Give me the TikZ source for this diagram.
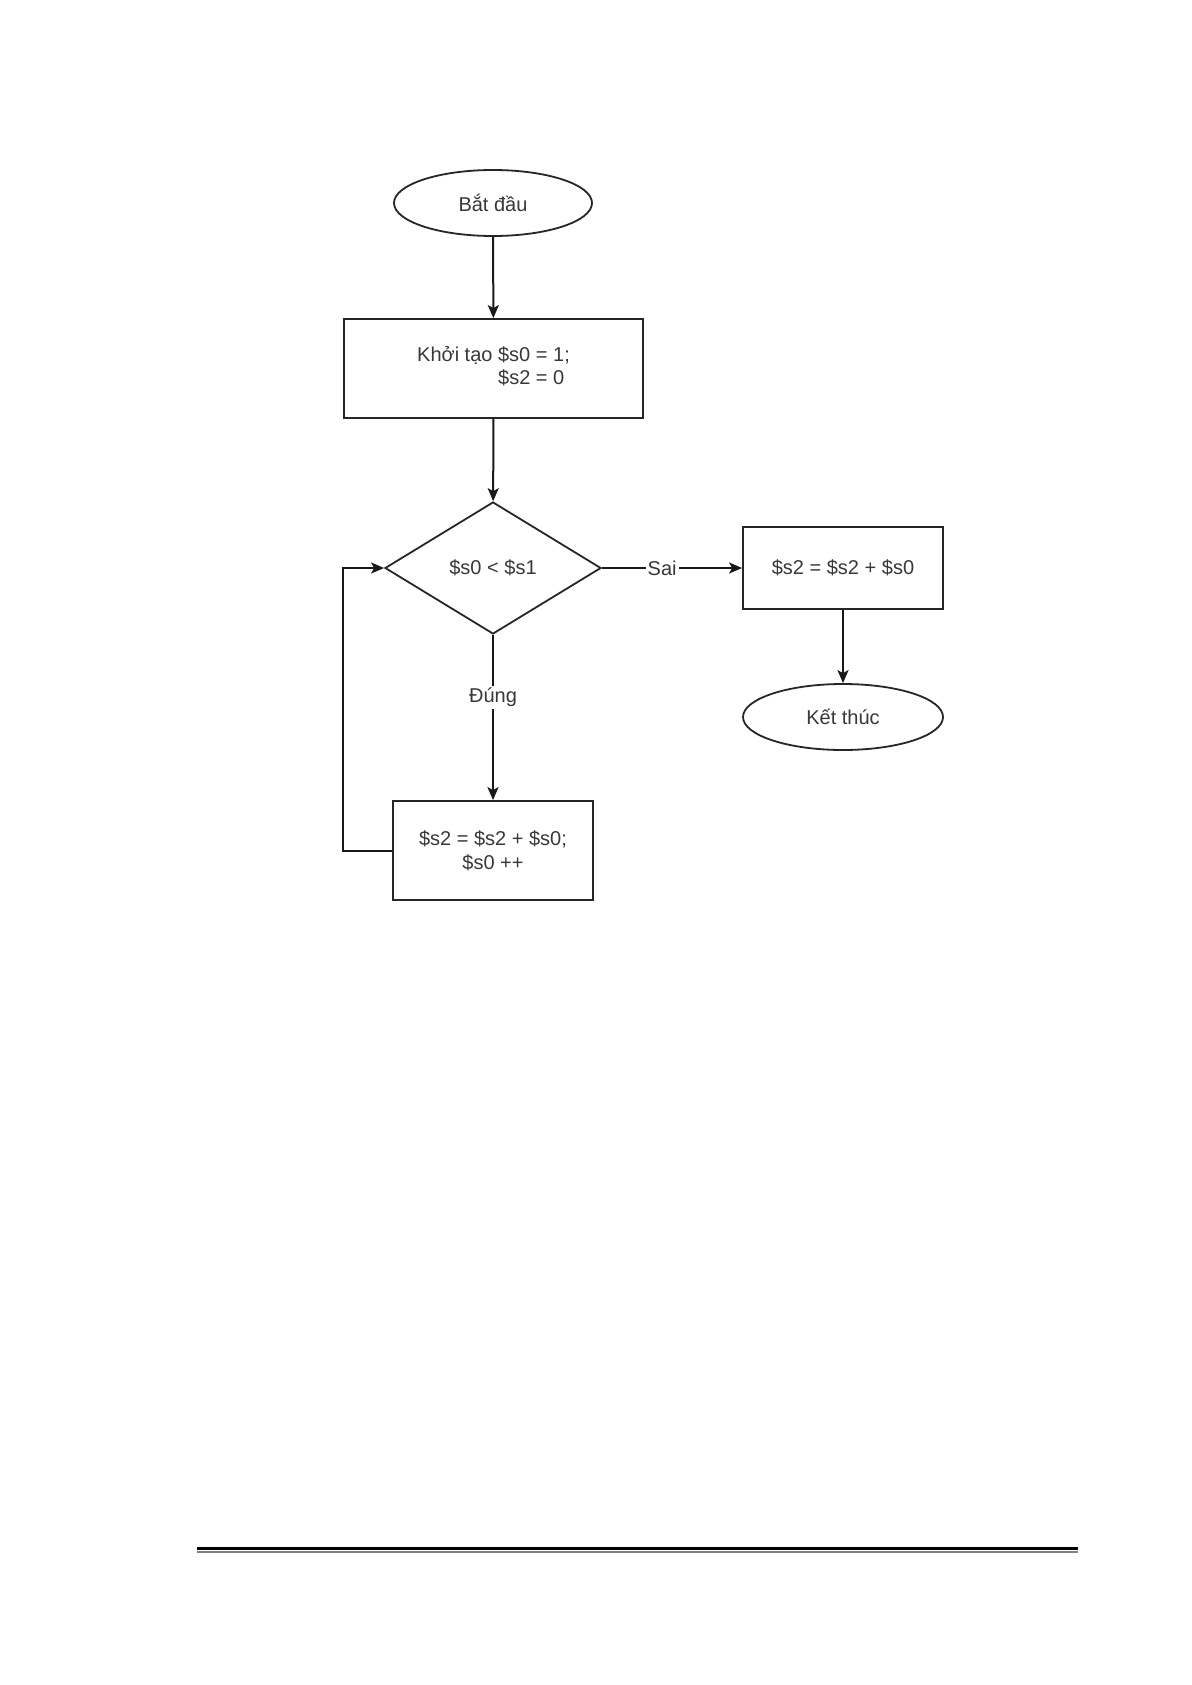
\documentclass[tikz,border=0pt]{standalone}
\usepackage{fontspec}
\setmainfont{Liberation Sans}
\usetikzlibrary{shapes.geometric,arrows.meta}
\begin{document}
\begin{tikzpicture}[x=0.5pt,y=-0.5pt,
  every node/.style={font=\fontsize{10}{12}\selectfont, text=black!78},
  term/.style={ellipse, draw=black!85, line width=0.9pt, minimum width=99pt, minimum height=33pt, inner sep=0pt},
  procbox/.style={rectangle, draw=black!85, line width=0.9pt, minimum width=100pt, inner sep=0pt},
  decision/.style={diamond, draw=black!85, line width=0.9pt, minimum width=108pt, minimum height=66pt, inner sep=0pt},
  flow/.style={draw=black!90, line width=1pt, -{Stealth[length=6.5pt,width=5.5pt,inset=1.5pt]}},
  edgelabel/.style={fill=white, inner sep=1pt}
]
\useasboundingbox (0,0) rectangle (1191,1685);
\fill[white] (0,0) rectangle (1191,1685);

\node[term] (start) at (493,203) {Bắt đầu};
\node[procbox, minimum width=149.5pt, minimum height=49.5pt] (init) at (493.5,368.5)
  {\begin{tabular}{@{}l@{}}Khởi tạo \$s0 = 1;\\[-0.5pt]\hspace{40.5pt}\$s2 = 0\end{tabular}};
\node[decision] (dec) at (493,568) {\$s0 < \$s1};
\node[procbox, minimum width=100pt, minimum height=41pt] (sum) at (843,568) {\$s2 = \$s2 + \$s0};
\node[term, minimum width=100pt, minimum height=33pt] (end) at (843,717) {Kết thúc};
\node[procbox, minimum width=100pt, minimum height=49.5pt, align=center] (loop) at (493,850.5)
  {\$s2 = \$s2 + \$s0;\\\$s0 ++};

\draw[flow] (start) -- (init);
\draw[flow] (init) -- (dec);
\draw[flow] (dec.east) -- node[edgelabel, pos=0.43] {Sai} (sum.west);
\draw[flow] (sum) -- (end);
\draw[flow] (dec.south) -- node[edgelabel, pos=0.38] {Đúng} (loop.north);
\draw[flow] (loop.west) -- ++(-49,0) |- (dec.west);

\coordinate (rl) at (197,1548.5);
\coordinate (rr) at (1078,1548.5);
\draw[line width=1.2pt, black] (rl) -- (rr);
\draw[line width=0.8pt, black!50] ([yshift=-1.6pt]rl) -- ([yshift=-1.6pt]rr);
\end{tikzpicture}
\end{document}
